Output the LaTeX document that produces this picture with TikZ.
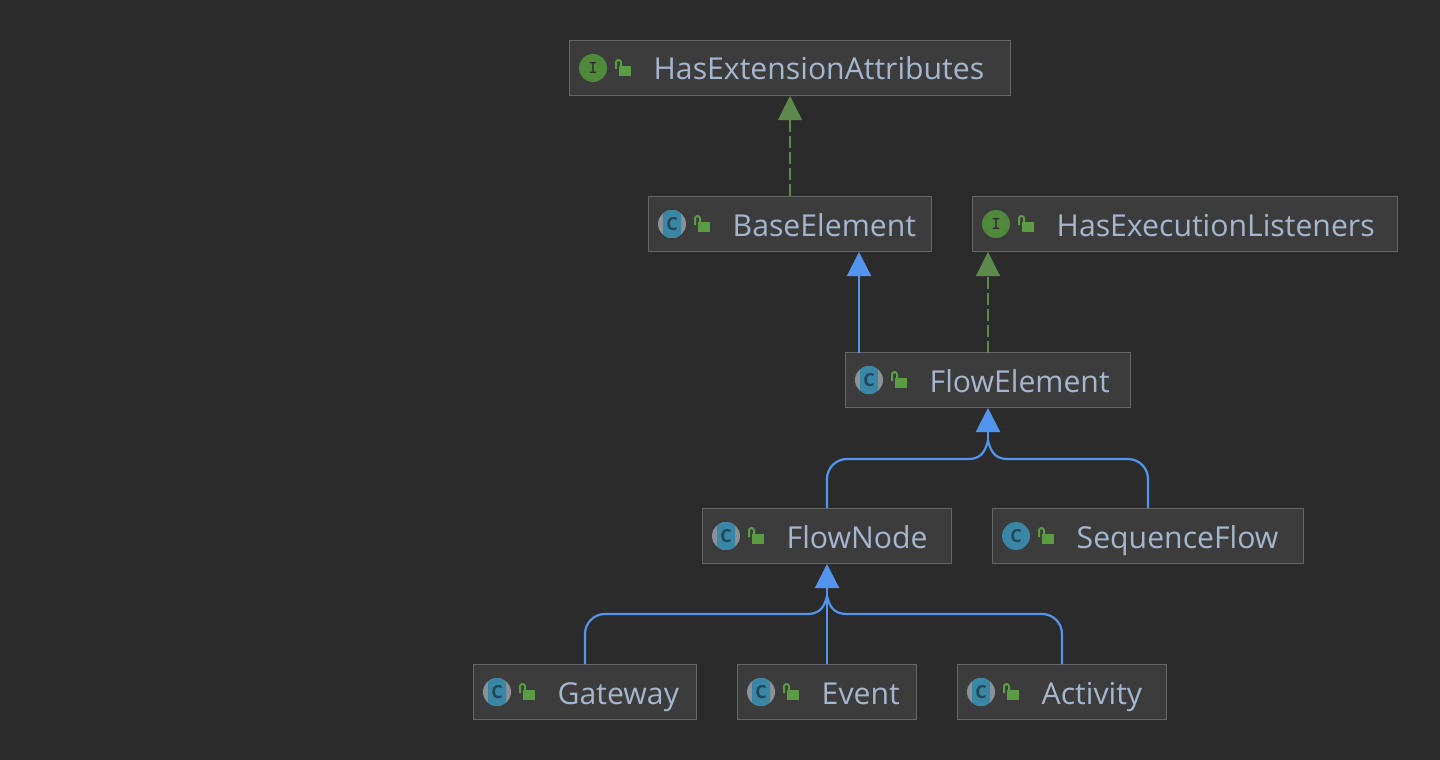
\documentclass[tikz,border=0pt]{standalone}
\usepackage{fontspec}
\setmainfont{Open Sans}
\usetikzlibrary{arrows.meta}
\definecolor{bgc}{HTML}{2B2B2B}
\definecolor{boxc}{HTML}{3C3C3C}
\definecolor{edgec}{HTML}{666666}
\definecolor{txtc}{HTML}{A6B6CE}
\definecolor{bluec}{HTML}{5395EE}
\definecolor{greenc}{HTML}{5C8A4C}
\definecolor{ifacec}{HTML}{4F8A3C}
\definecolor{classc}{HTML}{3A86A5}
\definecolor{grayc}{HTML}{8A9298}
\definecolor{lockc}{HTML}{5B9C45}
\definecolor{letterc}{HTML}{23475A}
\tikzset{
  x=1pt,y=-1pt,
  classbox/.style={draw=edgec,fill=boxc,line width=1pt,minimum height=55pt,inner sep=0pt},
  label/.style={text=txtc,font=\fontsize{30.2}{30.2}\selectfont,anchor=base west,inner sep=0pt},
  glyph/.style={inner sep=0pt,text=#1},
  solidedge/.style={draw=bluec,line width=2.2pt},
  tipsolid/.style={solidedge,-{Triangle[length=24pt,width=24pt,fill=bluec]}},
  tipdash/.style={draw=greenc,line width=2.4pt,dash pattern=on 12pt off 4pt,-{Triangle[length=24pt,width=24pt,fill=greenc,line width=1pt]}},
  lockpic/.pic={
    \fill[lockc] (2,-2) rectangle (14,8);
    \draw[lockc,line width=2pt] (-1,1) -- (-1,-5.5) arc[start angle=180,end angle=360,radius=2.5] -- (4,-2);
  },
  ipic/.pic={
    \fill[ifacec] (0,0) circle[radius=14];
    \node[glyph=bgc,font=\fontsize{18}{18}\bfseries\ttfamily] (-iletter) at (0,0) {I};
  },
  cpic/.pic={
    \fill[classc] (0,0) circle[radius=14];
    \node[glyph=letterc,font=\fontsize{18}{18}\bfseries] (-cletter) at (0,0) {C};
  },
  apic/.pic={
    \fill[grayc] (0,0) circle[radius=14];
    \path[clip] (-9,-15) rectangle (9,15);
    \fill[classc] (0,0) circle[radius=14];
    \node[glyph=letterc,font=\fontsize{18}{18}\bfseries] (-cletter) at (0,0) {C};
  },
}
\newcommand{\classitem}[6]{% name, left, right, top, icon, text
  \node[classbox,minimum width=#3-#2+1] (#1) at ({(#2+#3)/2},{#4+27}) {};
  \begin{scope}
  \pic (#1icon) at ({#2+23},{#4+27}) {#5};
  \end{scope}
  \pic at ({#2+47},{#4+27}) {lockpic};
  \node[label] (#1text) at ({#2+83.5},{#4+39}) {#6};
}
\begin{document}
\begin{tikzpicture}
\path[use as bounding box,fill=bgc] (0,0) rectangle (1440,760);
\classitem{hea}{570}{1010}{41}{ipic}{HasExtensionAttributes}
\classitem{base}{649}{931}{197}{apic}{BaseElement}
\classitem{hel}{973}{1397}{197}{ipic}{HasExecutionListeners}
\classitem{fe}{846}{1130}{353}{apic}{FlowElement}
\classitem{fn}{703}{951}{509}{apic}{FlowNode}
\classitem{sf}{993}{1303}{509}{cpic}{SequenceFlow}
\classitem{gw}{474}{696}{665}{apic}{Gateway}
\classitem{ev}{738}{916}{665}{apic}{Event}
\classitem{ac}{958}{1166}{665}{apic}{Activity}
\coordinate (feleft) at (859,353);
\coordinate (feright) at (988,353);
\draw[tipdash] (base.north) -- (hea.south);
\draw[tipsolid] (feleft) -- (feleft |- base.south);
\draw[tipdash] (feright) -- (feright |- hel.south);
% FlowElement children
\coordinate (fejoin) at (fe.south |- 0,440);
\draw[solidedge] (fn.north) -- (827,479) arc[start angle=180,end angle=270,radius=20] -- (968,459) .. controls (978,459) and (985,455) .. (fejoin);
\draw[solidedge] (sf.north) -- (1148,479) arc[start angle=0,end angle=-90,radius=20] -- (1008,459) .. controls (998,459) and (991,455) .. (fejoin);
\draw[tipsolid] (fejoin) -- (fe.south);
% FlowNode children
\coordinate (fnjoin) at (827,596);
\draw[solidedge] (gw.north) -- (585,634) arc[start angle=180,end angle=270,radius=20] -- (807,614) .. controls (817,614) and (824,610) .. (fnjoin);
\draw[solidedge] (ac.north) -- (1062,634) arc[start angle=0,end angle=-90,radius=20] -- (847,614) .. controls (837,614) and (830,610) .. (fnjoin);
\draw[tipsolid] (ev.north) -- (fn.south);
\end{tikzpicture}
\end{document}
